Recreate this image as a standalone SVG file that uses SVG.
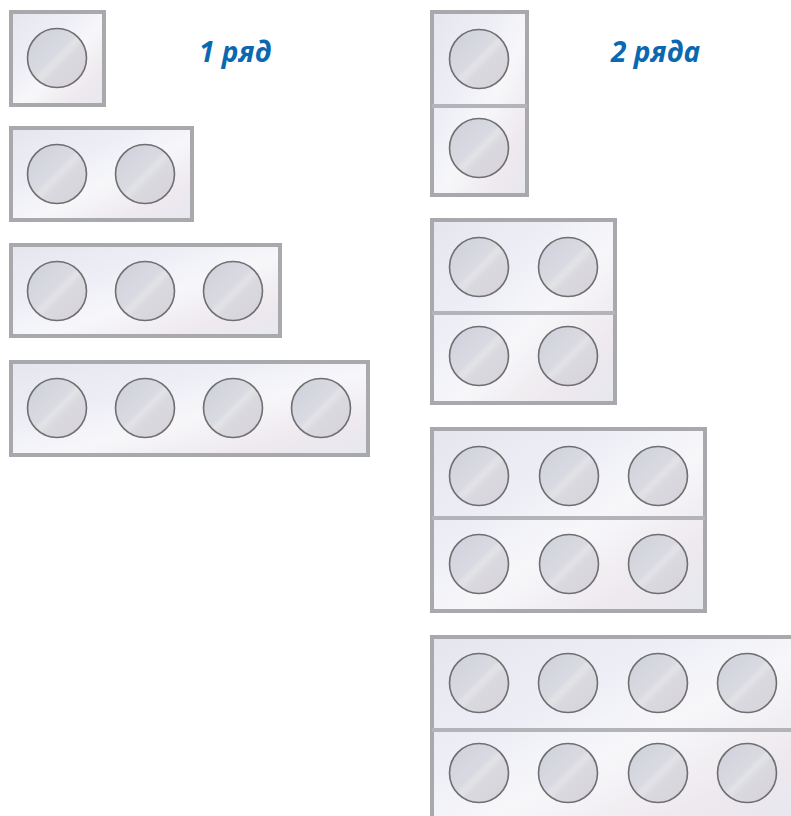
<svg xmlns="http://www.w3.org/2000/svg" width="791" height="816" viewBox="0 0 791 816">
<style>
.frame{fill:url(#plate);stroke:#a8a9ac;stroke-width:4}
.div{stroke:#b3b4b8;stroke-width:4}
.key{fill:url(#keyg);stroke:#6f6f72;stroke-width:1.6}
.title{font-family:"Open Sans","Liberation Sans",sans-serif;font-weight:bold;font-style:italic;font-size:28px;fill:#0a68b0}
</style>
<defs>
<linearGradient id="plate" x1="0" y1="0" x2="1" y2="1">
<stop offset="0" stop-color="#e4e5ee"/>
<stop offset="0.35" stop-color="#eeeff6"/>
<stop offset="0.55" stop-color="#f7f7fa"/>
<stop offset="0.8" stop-color="#eee9ee"/>
<stop offset="1" stop-color="#e6e8ee"/>
</linearGradient>
<linearGradient id="keyg" x1="0" y1="0" x2="1" y2="1">
<stop offset="0" stop-color="#ced0db"/>
<stop offset="0.45" stop-color="#d9dae1"/>
<stop offset="0.52" stop-color="#e3e3e7"/>
<stop offset="0.6" stop-color="#d9d9df"/>
<stop offset="1" stop-color="#d7d3d9"/>
</linearGradient>
<circle id="k" r="29.5" class="key"/>
</defs>

<text class="title" x="199" y="62">1 ряд</text>
<text class="title" x="611" y="62">2 ряда</text>

<g id="l1">
<rect class="frame" x="11" y="12" width="93" height="93"/>
<use href="#k" x="57" y="58"/>
</g>
<g id="l2">
<rect class="frame" x="11" y="128" width="181" height="92"/>
<use href="#k" x="57" y="174"/><use href="#k" x="145" y="174"/>
</g>
<g id="l3">
<rect class="frame" x="11" y="245" width="269" height="91"/>
<use href="#k" x="57" y="291"/><use href="#k" x="145" y="291"/><use href="#k" x="233" y="291"/>
</g>
<g id="l4">
<rect class="frame" x="11" y="362" width="357" height="93"/>
<use href="#k" x="57" y="408"/><use href="#k" x="145" y="408"/><use href="#k" x="233" y="408"/><use href="#k" x="321" y="408"/>
</g>

<g id="r1">
<rect class="frame" x="432" y="12" width="95" height="183"/>
<line class="div" x1="432" y1="106" x2="527" y2="106"/>
<use href="#k" x="479" y="59"/><use href="#k" x="479" y="148"/>
</g>
<g id="r2">
<rect class="frame" x="432" y="220" width="183" height="183"/>
<line class="div" x1="432" y1="313" x2="615" y2="313"/>
<use href="#k" x="479" y="267"/><use href="#k" x="568" y="267"/>
<use href="#k" x="479" y="356"/><use href="#k" x="568" y="356"/>
</g>
<g id="r3">
<rect class="frame" x="432" y="429" width="273" height="182"/>
<line class="div" x1="432" y1="518" x2="705" y2="518"/>
<use href="#k" x="479" y="476"/><use href="#k" x="569" y="476"/><use href="#k" x="658" y="476"/>
<use href="#k" x="479" y="564"/><use href="#k" x="569" y="564"/><use href="#k" x="658" y="564"/>
</g>
<g id="r4">
<rect class="frame" x="432" y="637" width="361" height="190"/>
<line class="div" x1="432" y1="730" x2="791" y2="730"/>
<use href="#k" x="479" y="683"/><use href="#k" x="568" y="683"/><use href="#k" x="658" y="683"/><use href="#k" x="747" y="683"/>
<use href="#k" x="479" y="773"/><use href="#k" x="568" y="773"/><use href="#k" x="658" y="773"/><use href="#k" x="747" y="773"/>
</g>
</svg>
